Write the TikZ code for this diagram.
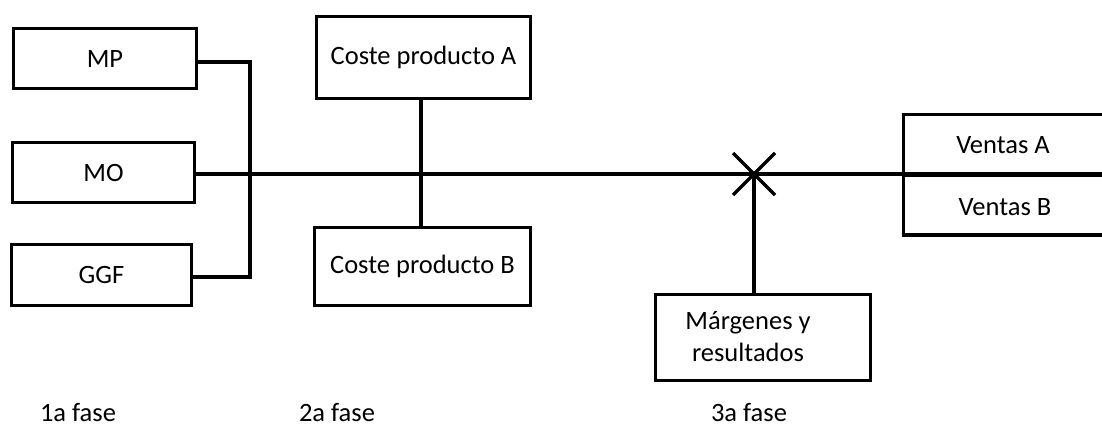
\documentclass[tikz,border=0pt]{standalone}
\usepackage{fontspec}
\setmainfont{Carlito}
\begin{document}
\begin{tikzpicture}[x=1pt,y=-1pt,
  lw/.style={line width=3.5pt},
  box/.style={draw,lw,rectangle,inner sep=0pt,outer sep=0pt,font=\fontsize{26.5}{32}\selectfont},
  lbl/.style={inner sep=0pt,font=\fontsize{26.5}{32}\selectfont},
  wire/.style={lw,line cap=butt}]
\useasboundingbox (0,0) rectangle (1102,426);
\clip (0,0) rectangle (1102,426);

% phase 1 inputs
\node[box,minimum width=183,minimum height=60] (mp)  at (105,58.5)   {MP};
\node[box,minimum width=182,minimum height=60] (mo)  at (103.5,172.5) {MO};
\node[box,minimum width=180,minimum height=61] (ggf) at (101.5,275)  {GGF};

% phase 2 products
\node[box,minimum width=214,minimum height=82] (ca) at (423.5,57.5) {Coste producto A};
\node[box,minimum width=216,minimum height=78] (cb) at (422.5,266.5) {Coste producto B};

% phase 3 results and sales
\node[box,minimum width=215,minimum height=86] (mr) at (763,337.5) {};
\node[lbl,align=center] (mrt) at (748,337) {Márgenes y\\resultados};
\node[box,minimum width=230,minimum height=61,anchor=north west] (va) at (903.5,114.5) {};
\node[box,minimum width=230,minimum height=61,anchor=north west] (vb) at (903.5,174) {};
\node[lbl] (vat) at (1003,145) {Ventas A};
\node[lbl] (vbt) at (1005,207) {Ventas B};

% joints on the main line
\coordinate (bus) at (250,174);
\coordinate (pj) at (421,174);
\coordinate (xm) at (754,174);

% collector of phase 1
\draw[wire] (mp.east |- 0,62) -| (bus) |- (ggf.east |- 0,277);
% main line
\draw[wire] (mo.east |- xm) -- (xm) -- (vb.north west);
\draw[wire] (ca.south -| pj) -- (pj) -- (cb.north -| pj);
\draw[wire] (xm) -- (mr.north -| xm);
% cross mark
\draw[wire] ([shift={(-21,-21)}]xm) -- ([shift={(21,21)}]xm);
\draw[wire] ([shift={(21,-21)}]xm) -- ([shift={(-21,21)}]xm);

% phase labels
\node[lbl,anchor=base] (f1) at (78,421) {1a fase};
\node[lbl,anchor=base] (f2) at (337,421) {2a fase};
\node[lbl,anchor=base] (f3) at (749,421) {3a fase};
\end{tikzpicture}
\end{document}
